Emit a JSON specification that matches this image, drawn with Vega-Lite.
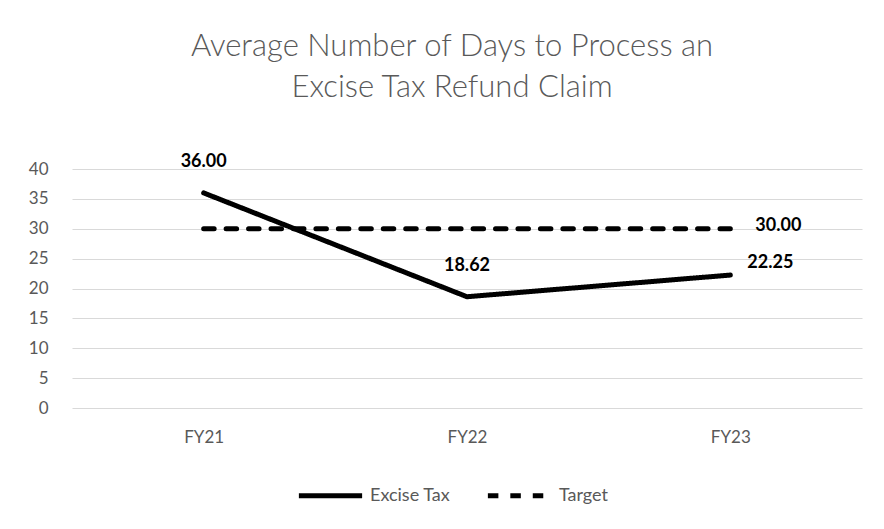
{
  "$schema": "https://vega.github.io/schema/vega-lite/v6.json",
  "width": 790,
  "height": 239,
  "autosize": {"type": "none"},
  "padding": {"left": 72, "top": 169, "right": 22, "bottom": 121},
  "background": "white",
  "title": {
    "text": ["Average Number of Days to Process an", "Excise Tax Refund Claim"],
    "fontSize": 31,
    "font": "Lato",
    "fontWeight": 300,
    "color": "#595959",
    "lineHeight": 41,
    "anchor": "middle",
    "offset": 49,
    "dx": -15
  },
  "data": {
    "values": [
      {"year": "FY21", "series": "Excise Tax", "value": 36.00},
      {"year": "FY22", "series": "Excise Tax", "value": 18.62},
      {"year": "FY23", "series": "Excise Tax", "value": 22.25},
      {"year": "FY21", "series": "Target", "value": 30.00},
      {"year": "FY22", "series": "Target", "value": 30.00},
      {"year": "FY23", "series": "Target", "value": 30.00}
    ]
  },
  "encoding": {
    "x": {
      "field": "year",
      "type": "nominal",
      "title": null,
      "scale": {"type": "point", "padding": 0.5},
      "axis": {
        "labelAngle": 0,
        "labelFont": "Lato",
        "labelFontSize": 17,
        "labelColor": "#595959",
        "labelPadding": 21,
        "domain": false,
        "ticks": false,
        "grid": false
      }
    },
    "y": {
      "field": "value",
      "type": "quantitative",
      "title": null,
      "scale": {"domain": [0, 40], "nice": false},
      "axis": {
        "values": [0, 5, 10, 15, 20, 25, 30, 35, 40],
        "labelFont": "Lato",
        "labelFontSize": 17,
        "labelColor": "#595959",
        "labelPadding": 24,
        "domain": false,
        "ticks": false,
        "grid": true,
        "gridColor": "#d9d9d9",
        "gridWidth": 1
      }
    }
  },
  "layer": [
    {
      "mark": {"type": "line", "color": "black", "strokeWidth": 5, "strokeCap": "round"},
      "encoding": {
        "strokeDash": {
          "field": "series",
          "type": "nominal",
          "scale": {"domain": ["Excise Tax", "Target"], "range": [[1, 0], [10.5, 11.95]]},
          "legend": {
            "title": null,
            "orient": "none",
            "direction": "horizontal",
            "legendX": 224,
            "legendY": 292,
            "symbolType": "stroke",
            "symbolSize": 4000,
            "symbolStrokeWidth": 5,
            "symbolStrokeColor": "black",
            "labelFont": "Lato",
            "labelFontSize": 18,
            "labelColor": "#595959",
            "labelOffset": 5,
            "columnPadding": 26
          }
        }
      }
    },
    {
      "transform": [{"filter": "datum.series == 'Excise Tax' && datum.year != 'FY23'"}],
      "mark": {"type": "text", "font": "Lato", "fontWeight": "bold", "fontSize": 18, "color": "black", "dy": -31},
      "encoding": {"text": {"field": "value", "type": "quantitative", "format": ".2f"}}
    },
    {
      "transform": [{"filter": "datum.series == 'Excise Tax' && datum.year == 'FY23'"}],
      "mark": {"type": "text", "font": "Lato", "fontWeight": "bold", "fontSize": 18, "color": "black", "dx": 40, "dy": -12},
      "encoding": {"text": {"field": "value", "type": "quantitative", "format": ".2f"}}
    },
    {
      "transform": [{"filter": "datum.series == 'Target' && datum.year == 'FY23'"}],
      "mark": {"type": "text", "font": "Lato", "fontWeight": "bold", "fontSize": 18, "color": "black", "dx": 48, "dy": -3},
      "encoding": {"text": {"field": "value", "type": "quantitative", "format": ".2f"}}
    }
  ],
  "config": {"view": {"stroke": null}}
}
